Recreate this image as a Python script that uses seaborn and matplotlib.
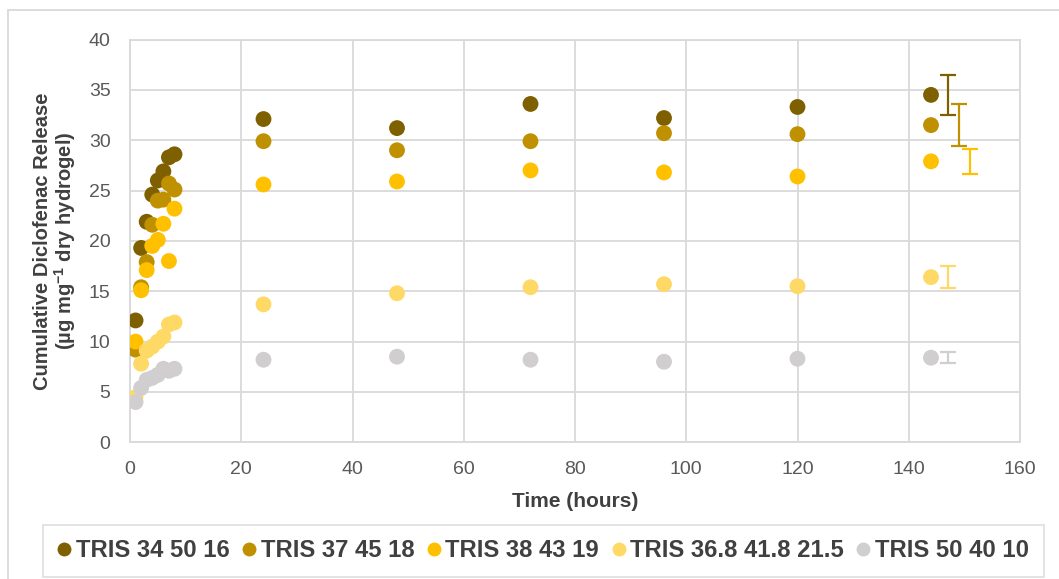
import numpy as np
import pandas as pd
import matplotlib
matplotlib.use("Agg")
import matplotlib.pyplot as plt
from matplotlib.lines import Line2D
from matplotlib.patches import Rectangle
import seaborn as sns

# ---------------- data ----------------
time_h = [1, 2, 3, 4, 5, 6, 7, 8, 24, 48, 72, 96, 120, 144]
series_names = ["TRIS 34 50 16", "TRIS 37 45 18", "TRIS 38 43 19",
                "TRIS 36.8 41.8 21.5", "TRIS 50 40 10"]
tris_34_50_16 = [12.1, 19.3, 21.9, 24.6, 26.0, 26.9, 28.3, 28.6, 32.1, 31.2, 33.6, 32.2, 33.3, 34.5]
tris_37_45_18 = [9.2, 15.4, 17.9, 21.6, 24.0, 24.1, 25.7, 25.1, 29.9, 29.0, 29.9, 30.7, 30.6, 31.5]
tris_38_43_19 = [10.0, 15.1, 17.1, 19.5, 20.1, 21.7, 18.0, 23.2, 25.6, 25.9, 27.0, 26.8, 26.4, 27.9]
tris_368_418_215 = [4.5, 7.8, 9.1, 9.5, 10.0, 10.5, 11.7, 11.9, 13.7, 14.8, 15.4, 15.7, 15.5, 16.4]
tris_50_40_10 = [4.0, 5.4, 6.2, 6.4, 6.7, 7.3, 7.1, 7.3, 8.2, 8.5, 8.2, 8.0, 8.3, 8.4]
# error bars of the final (144 h) values, drawn slightly to the right
err_time = [147, 149, 151, 147, 147]
err_sd = [1.95, 2.1, 1.25, 1.1, 0.55]
colors = ["#7f6000", "#bf9000", "#ffc000", "#ffd966", "#d0cece"]
x_ticks = [0, 20, 40, 60, 80, 100, 120, 140, 160]
y_ticks = [0, 5, 10, 15, 20, 25, 30, 35, 40]

all_series = [tris_34_50_16, tris_37_45_18, tris_38_43_19, tris_368_418_215, tris_50_40_10]
df = pd.concat([pd.DataFrame({"Time": time_h, "Release": vals, "Series": name})
                for name, vals in zip(series_names, all_series)], ignore_index=True)

# ---------------- style ----------------
sns.set_theme(style="white")
plt.rcParams["font.family"] = ["Liberation Sans", "DejaVu Sans"]
plt.rcParams["mathtext.fontset"] = "custom"
plt.rcParams["mathtext.rm"] = "Liberation Sans"
plt.rcParams["mathtext.bf"] = "Liberation Sans:bold"

W, H = 1059, 579
fig = plt.figure(figsize=(W / 100, H / 100), dpi=100)
ax = fig.add_axes([130 / W, 1 - 442.3 / H, (1020 - 130) / W, (442.3 - 39.5) / H])

grid_c = "#d9d9d9"
sns.scatterplot(data=df, x="Time", y="Release", hue="Series", hue_order=series_names,
                palette=colors, s=130, linewidth=0, legend=False, ax=ax, zorder=3)

for i in range(len(series_names)):
    ax.errorbar(err_time[i], all_series[i][-1], yerr=err_sd[i], fmt="none",
                ecolor=colors[i], elinewidth=1.6, capsize=5.5, capthick=1.6, zorder=4)

ax.set_xlim(0, 160)
ax.set_ylim(0, 40)
ax.set_xticks(x_ticks)
ax.set_yticks(y_ticks)
ax.grid(True, color=grid_c, linewidth=1.3)
ax.set_axisbelow(True)
for sp in ax.spines.values():
    sp.set_color(grid_c)
    sp.set_linewidth(1.3)
ax.tick_params(axis="both", length=0, labelsize=14, labelcolor="#595959")
ax.tick_params(axis="x", pad=13.5)
ax.tick_params(axis="y", pad=14)

ax.set_xlabel("Time (hours)", fontsize=15, fontweight="bold", color="#404040", labelpad=10)
ax.set_ylabel("Cumulative Diclofenac Release\n(µg mg$^{\\mathbf{-1}}$ dry hydrogel)", fontsize=14.5,
              fontweight="bold", color="#404040", labelpad=8, linespacing=1.0)

# outer chart border
fig.patches.append(Rectangle((8 / W, -0.1), 1.2, 1 - 10 / H + 0.1, transform=fig.transFigure,
                             fill=False, edgecolor=grid_c, linewidth=1.3))

handles = [Line2D([0], [0], marker="o", linestyle="none", markersize=10,
                  markerfacecolor=c, markeredgewidth=0) for c in colors]
leg = fig.legend(handles, series_names, loc="upper left",
                 bbox_to_anchor=(43 / W, 1 - 524.5 / H), ncol=5, frameon=True,
                 prop={"size": 17.2, "weight": "bold"}, handlelength=0.55,
                 handletextpad=0.2, columnspacing=0.55, borderpad=0.62,
                 fancybox=False, borderaxespad=0)
leg.get_frame().set_edgecolor(grid_c)
leg.get_frame().set_linewidth(1.3)
for t in leg.get_texts():
    t.set_color("#404040")

fig.savefig("out.png", dpi=100)
